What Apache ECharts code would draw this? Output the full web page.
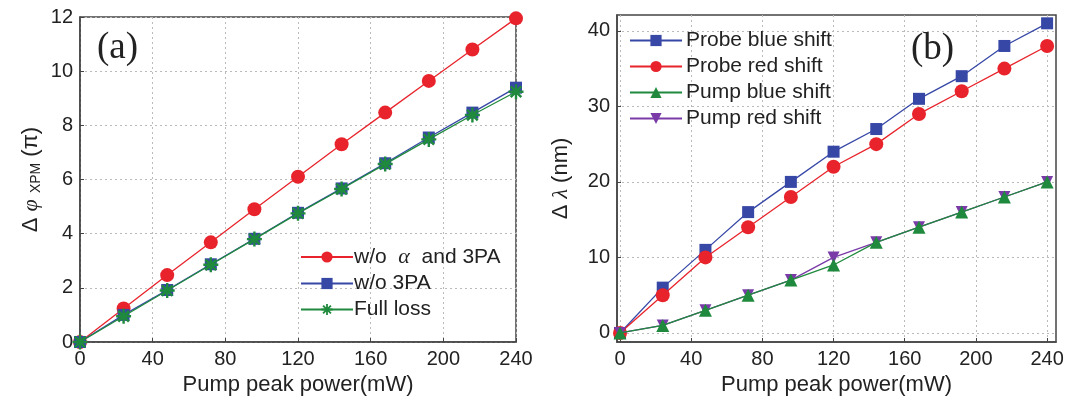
<!DOCTYPE html>
<html><head><meta charset="utf-8">
<script src="https://cdn.jsdelivr.net/npm/echarts@6/dist/echarts.min.js"></script>
<style>html,body{margin:0;padding:0;background:#fff}#c{width:1085px;height:407px}</style>
</head><body><div id="c"></div>
<script>
// ---- data ----
var power = [0, 24, 48, 72, 96, 120, 144, 168, 192, 216, 240];
var xTicks = [0, 40, 80, 120, 160, 200, 240];
// panel (a): ΔφXPM (π)
var noAlpha3PA = [0, 1.24, 2.47, 3.68, 4.90, 6.10, 7.30, 8.47, 9.64, 10.80, 11.95];
var no3PA      = [0, 1.00, 1.92, 2.87, 3.81, 4.77, 5.67, 6.60, 7.55, 8.47, 9.39];
var fullLoss   = [0, 0.95, 1.90, 2.85, 3.80, 4.75, 5.65, 6.57, 7.48, 8.38, 9.24];
// panel (b): Δλ (nm)
var probeBlue = [0, 6, 11, 16, 20, 24, 27, 31, 34, 38, 41];
var probeRed  = [0, 5, 10, 14, 18, 22, 25, 29, 32, 35, 38];
var pumpBlue  = [0, 1, 3, 5, 7, 9, 12, 14, 16, 18, 20];
var pumpRed   = [0, 1, 3, 5, 7, 10, 12, 14, 16, 18, 20];
var yTicksB = [0, 10, 20, 30, 40];

function pairs(ys){ return power.map(function(x,i){ return [x, ys[i]]; }); }

var FONT = 'Liberation Sans, Arial, sans-serif';
var RED = '#e8232b', BLUE = '#3647a6', GREEN = '#1f8a3d', PURPLE = '#7a3ba8';
var AX = '#444';
var STAR = 'path://M-1.6,-10 L1.6,-10 L1.6,10 L-1.6,10 Z M-10,-1.6 L10,-1.6 L10,1.6 L-10,1.6 Z M-8.2,-5.9 L-5.9,-8.2 L8.2,5.9 L5.9,8.2 Z M-5.9,8.2 L-8.2,5.9 L5.9,-8.2 L8.2,-5.9 Z';

function splitL(){ return {show:true, lineStyle:{color:'#bbb', type:[2,3], width:1}}; }
var labelStyle = {color:'#222', fontSize:20, fontFamily:FONT, margin:7};
var nameStyle = {color:'#222', fontSize:22, fontFamily:FONT};

function ser(name, data, color, sym, size, xi, z){
  return {name:name, type:'line', xAxisIndex:xi, yAxisIndex:xi, data:pairs(data),
    symbol:sym, symbolSize:size, showSymbol:true, clip:false, z:z,
    lineStyle:{color:color, width:1.3}, itemStyle:{color:color, borderWidth:0}, animation:false};
}

var chart = echarts.init(document.getElementById('c'), null, {renderer:'canvas'});
var series = [
  ser('w/o α and 3PA', noAlpha3PA, RED, 'circle', 14, 0, 3),
  ser('w/o 3PA', no3PA, BLUE, 'rect', 12, 0, 4),
  ser('Full loss', fullLoss, GREEN, STAR, 15, 0, 5),
  ser('Probe blue shift', probeBlue, BLUE, 'rect', 12, 1, 3),
  ser('Probe red shift', probeRed, RED, 'circle', 14, 1, 4),
  ser('Pump red shift', pumpRed, PURPLE, 'triangle', 12, 1, 5),
  ser('Pump blue shift', pumpBlue, GREEN, 'triangle', 13, 1, 6)
];
series[5].symbolRotate = 180;
var legText = {fontSize:21, fontFamily:FONT, color:'#222'};
chart.setOption({
  backgroundColor:'#fff',
  animation:false,
  grid:[
    {left:80, top:17, width:436, height:325, show:true, borderColor:AX, borderWidth:1.5, backgroundColor:'transparent'},
    {left:617, top:15, width:439, height:327, show:true, borderColor:AX, borderWidth:1.5, backgroundColor:'transparent'}
  ],
  xAxis:[
    {type:'value', gridIndex:0, min:0, max:240, interval:40,
     name:'Pump peak power(mW)', nameLocation:'middle', nameGap:30, nameTextStyle:nameStyle,
     axisLine:{show:true, lineStyle:{color:AX, width:1.5}}, axisTick:{show:true, inside:true, length:4, lineStyle:{color:AX}},
     axisLabel:labelStyle, splitLine:splitL()},
    {type:'value', gridIndex:1, min:-1.7, max:245,
     name:'Pump peak power(mW)', nameLocation:'middle', nameGap:30, nameTextStyle:nameStyle,
     axisLine:{show:true, onZero:false, lineStyle:{color:AX, width:1.5}},
     axisTick:{show:true, inside:true, length:4, lineStyle:{color:AX}, customValues:xTicks},
     axisLabel:Object.assign({customValues:xTicks}, labelStyle), splitLine:splitL()}
  ],
  yAxis:[
    {type:'value', gridIndex:0, min:0, max:12, interval:2,
     name:'Δ {it|φ} {sub|XPM} (π)', nameLocation:'middle', nameGap:37,
     nameTextStyle:Object.assign({rich:{it:{fontSize:22, fontStyle:'italic', fontFamily:'Liberation Serif, serif', color:'#222'}, sub:{fontSize:14, fontFamily:FONT, color:'#222', padding:[10,0,0,0]}}}, nameStyle),
     axisLine:{show:true, lineStyle:{color:AX, width:1.5}}, axisTick:{show:true, inside:true, length:4, lineStyle:{color:AX}},
     axisLabel:labelStyle, splitLine:splitL()},
    {type:'value', gridIndex:1, min:-1.2, max:42.1,
     name:'Δ {it|λ} (nm)', nameLocation:'middle', nameGap:45,
     nameTextStyle:Object.assign({rich:{it:{fontSize:22, fontStyle:'italic', fontFamily:'Liberation Serif, serif', color:'#222'}}}, nameStyle),
     axisLine:{show:true, onZero:false, lineStyle:{color:AX, width:1.5}},
     axisTick:{show:true, inside:true, length:4, lineStyle:{color:AX}, customValues:yTicksB},
     axisLabel:Object.assign({customValues:yTicksB}, labelStyle), splitLine:splitL()}
  ],
  legend:[
    {left:295, top:241, orient:'vertical', itemWidth:52, itemHeight:14, itemGap:5,
     data:['w/o α and 3PA','w/o 3PA','Full loss'],
     formatter:function(n){ return n==='w/o α and 3PA' ? 'w/o  {it|α}  and 3PA' : n; },
     textStyle:Object.assign({padding:[0,0,0,-4],
       rich:{it:{fontSize:22, fontStyle:'italic', fontFamily:'Liberation Serif, serif', color:'#222'}}}, legText)},
    {left:624, top:25, orient:'vertical', itemWidth:52, itemHeight:14, itemGap:5,
     data:['Probe blue shift','Probe red shift','Pump blue shift','Pump red shift'],
     textStyle:Object.assign({padding:[0,0,0,-1]}, legText)}
  ],
  graphic:[
    {type:'text', left:97, top:30, style:{text:'(a)', fontSize:37, fontFamily:'Liberation Serif, serif', fill:'#222'}},
    {type:'text', left:911, top:31, style:{text:'(b)', fontSize:37, fontFamily:'Liberation Serif, serif', fill:'#222'}}
  ],
  series:series
});
</script></body></html>
